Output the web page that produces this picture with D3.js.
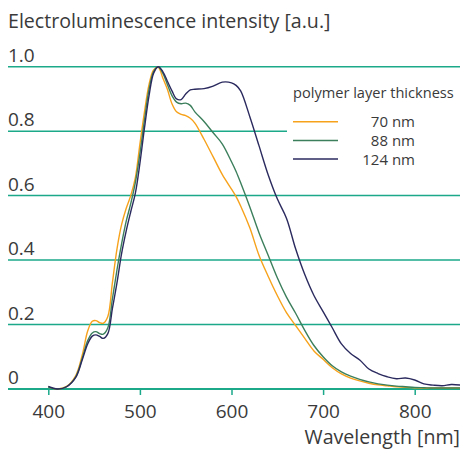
<!DOCTYPE html>
<html>
<head>
<meta charset="utf-8">
<script src="https://cdn.jsdelivr.net/npm/d3@7"></script>
<style>
  body { margin: 0; background: #fff; }
  text { font-family: "Open Sans", "Noto Sans", sans-serif; fill: #3a3a3a; }
</style>
</head>
<body>
<script>
// wavelength grid [nm]
var wavelengths = [400, 410, 420, 430, 437, 443, 448, 452, 456, 460, 465, 470, 475, 480, 485, 490, 495,
    500, 505, 510, 515, 520, 525, 530, 535, 540, 545, 550, 555, 560, 570, 580, 590, 600, 605, 610,
    620, 630, 640, 650, 660, 670, 680, 690, 700, 710, 720, 730, 740, 750, 760, 770, 780, 790, 800,
    810, 820, 830, 840, 850];

// intensities
var int70 = [0.006, 0.0, 0.008, 0.042, 0.105, 0.18, 0.21, 0.212, 0.206, 0.204, 0.225, 0.33, 0.435, 0.51, 0.56, 0.6, 0.655,
    0.76, 0.86, 0.945, 0.99, 0.998, 0.965, 0.93, 0.885, 0.86, 0.852, 0.848, 0.84, 0.825, 0.775, 0.72, 0.665, 0.62, 0.597, 0.568,
    0.5, 0.415, 0.35, 0.29, 0.237, 0.197, 0.157, 0.118, 0.092, 0.066, 0.047, 0.034, 0.025, 0.018, 0.013, 0.01, 0.007, 0.005, 0.004,
    0.003, 0.003, 0.003, 0.003, 0.003];
var int88 = [0.006, 0.0, 0.007, 0.038, 0.095, 0.15, 0.174, 0.178, 0.172, 0.17, 0.19, 0.28, 0.37, 0.45, 0.52, 0.575, 0.64,
    0.73, 0.835, 0.93, 0.985, 1.0, 0.98, 0.945, 0.91, 0.89, 0.885, 0.887, 0.88, 0.86, 0.83, 0.795, 0.76, 0.705, 0.675, 0.64,
    0.565, 0.485, 0.415, 0.345, 0.285, 0.235, 0.182, 0.135, 0.1, 0.072, 0.053, 0.04, 0.03, 0.022, 0.016, 0.012, 0.009, 0.007, 0.005,
    0.004, 0.003, 0.003, 0.003, 0.003];
var int124 = [0.008, 0.0, 0.007, 0.036, 0.09, 0.14, 0.164, 0.168, 0.163, 0.157, 0.172, 0.25, 0.33, 0.42, 0.49, 0.55, 0.607,
    0.70, 0.81, 0.91, 0.98, 1.0, 0.985, 0.955, 0.925, 0.90, 0.898, 0.915, 0.928, 0.93, 0.932, 0.94, 0.952, 0.95, 0.942, 0.925,
    0.845, 0.755, 0.665, 0.59, 0.53, 0.435, 0.355, 0.29, 0.24, 0.19, 0.14, 0.11, 0.09, 0.062, 0.048, 0.038, 0.032, 0.034, 0.028,
    0.016, 0.012, 0.01, 0.014, 0.012];

var seriesNames = ["70 nm", "88 nm", "124 nm"];
var seriesColors = ["#f7a21b", "#3c7f5c", "#2b2a5f"];
var xTicks = [400, 500, 600, 700, 800];
var yTicks = [0, 0.2, 0.4, 0.6, 0.8, 1.0];
var yTickLabels = ["0", "0.2", "0.4", "0.6", "0.8", "1.0"];

var width = 460, height = 449;
var grid = "#1ba98a";

var svg = d3.select("body").append("svg")
    .attr("width", width)
    .attr("height", height);

var x = d3.scaleLinear().domain([400, 800]).range([48.3, 414.7]);
var y = d3.scaleLinear().domain([0, 1]).range([389, 66.7]);

// horizontal grid lines (the 0.8 one stops at the legend)
svg.selectAll("line.grid")
    .data(yTicks)
    .enter().append("line")
    .attr("class", "grid")
    .attr("x1", 8)
    .attr("x2", function (d) { return d === 0.8 ? 287 : width; })
    .attr("y1", function (d) { return y(d); })
    .attr("y2", function (d) { return y(d); })
    .attr("stroke", grid)
    .attr("stroke-width", function (d) { return d === 0 ? 2 : 1.5; });

// y labels sit above their lines
svg.selectAll("text.ylab")
    .data(yTicks)
    .enter().append("text")
    .attr("class", "ylab")
    .attr("x", 8)
    .attr("y", function (d) { return y(d) - 5; })
    .style("font-size", "19px")
    .text(function (d, i) { return yTickLabels[i]; });

// x axis ticks and labels
var xAxis = d3.axisBottom(x).tickValues(xTicks).tickSize(6).tickPadding(10);
var gx = svg.append("g").attr("transform", "translate(0," + y(0) + ")").call(xAxis);
gx.select(".domain").remove();
gx.selectAll(".tick line").attr("stroke", grid).attr("stroke-width", 1.5);
gx.selectAll(".tick text").style("font-size", "19px").attr("fill", "#3a3a3a")
    .style("font-family", '"Open Sans", sans-serif');

// curves
var line = d3.line()
    .x(function (d) { return x(d[0]); })
    .y(function (d) { return y(d[1]); })
    .curve(d3.curveCatmullRom.alpha(0.5));

[int70, int88, int124].forEach(function (vals, i) {
    svg.append("path")
        .datum(wavelengths.map(function (w, j) { return [w, vals[j]]; }))
        .attr("d", line)
        .attr("fill", "none")
        .attr("stroke", seriesColors[i])
        .attr("stroke-width", 1.4);
});

// titles
svg.append("text").attr("x", 8).attr("y", 28)
    .style("font-size", "19.6px")
    .text("Electroluminescence intensity [a.u.]");
svg.append("text").attr("x", 460).attr("y", 444)
    .attr("text-anchor", "end")
    .style("font-size", "19.6px")
    .text("Wavelength [nm]");

// legend
svg.append("text").attr("x", 293).attr("y", 98)
    .style("font-size", "14.6px")
    .text("polymer layer thickness");
seriesNames.forEach(function (name, i) {
    var ly = 121.7 + i * 18.7;
    svg.append("line")
        .attr("x1", 293).attr("x2", 338)
        .attr("y1", ly).attr("y2", ly)
        .attr("stroke", seriesColors[i])
        .attr("stroke-width", 1.5);
    svg.append("text")
        .attr("x", 415).attr("y", ly + 5.5)
        .attr("text-anchor", "end")
        .style("font-size", "15px")
        .text(name);
});
</script>
</body>
</html>
